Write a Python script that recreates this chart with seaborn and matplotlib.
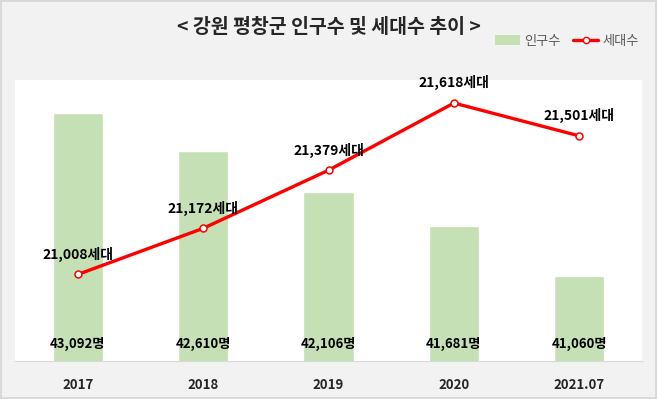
import matplotlib
matplotlib.use('Agg')
import matplotlib.pyplot as plt
import seaborn as sns
import pandas as pd
from matplotlib.patches import Patch
from matplotlib.lines import Line2D

# data
years = ['2017', '2018', '2019', '2020', '2021.07']
population = [43092, 42610, 42106, 41681, 41060]
households = [21008, 21172, 21379, 21618, 21501]

BAR_COLOR = '#c5e0b4'
LINE_COLOR = '#ff0000'

sns.set_style('white')
plt.rcParams['font.family'] = ['Noto Sans CJK KR', 'DejaVu Sans']

df = pd.DataFrame({'year': years, 'pop': population, 'hh': households})

fig = plt.figure(figsize=(6.57, 3.99), dpi=100, facecolor='#f2f2f2',
                 edgecolor='#d9d9d9', linewidth=1.5)
ax = fig.add_axes([0.0228, 0.0952, 0.9544, 0.7043])
ax.set_facecolor('white')

# population bars
sns.barplot(data=df, x='year', y='pop', color=BAR_COLOR, width=0.4,
            saturation=1, ax=ax)
ax.set_ylim(40000, 43500)
ax.set_xlim(-0.5, len(years) - 0.5)

for i, v in enumerate(population):
    ax.annotate(f'{v:,}명', xy=(i, 40000), xytext=(0, 12.5),
                textcoords='offset points', ha='center', va='center',
                fontsize=9.5, fontweight='bold', color='black')

# households line on secondary axis
ax2 = ax.twinx()
sns.lineplot(data=df, x='year', y='hh', ax=ax2, color=LINE_COLOR,
             linewidth=2.4, marker='o', markersize=5,
             markerfacecolor='white', markeredgecolor=LINE_COLOR,
             markeredgewidth=1.1, sort=False)
ax2.set_ylim(20700, 21700)

for i, v in enumerate(households):
    ax2.annotate(f'{v:,}세대', xy=(i, v), xytext=(0, 14.5),
                 textcoords='offset points', ha='center', va='center',
                 fontsize=10, fontweight='bold', color='black')

# axes cosmetics
for a in (ax, ax2):
    for side in ('top', 'left', 'right'):
        a.spines[side].set_visible(False)
    a.set_ylabel('')
    a.set_xlabel('')
    a.set_yticks([])
ax.spines['bottom'].set_color('#d9d9d9')
ax2.spines['bottom'].set_visible(False)
ax.tick_params(axis='x', length=0, pad=12)
for lbl in ax.get_xticklabels():
    lbl.set_fontweight('bold')
    lbl.set_fontsize(9.5)

fig.text(0.5, 0.932, '< 강원 평창군 인구수 및 세대수 추이 >', ha='center',
         va='center', fontsize=14, fontweight='bold')

handles = [Patch(facecolor=BAR_COLOR, edgecolor='none'),
           Line2D([0], [0], color=LINE_COLOR, linewidth=2.4, marker='o',
                  markersize=4.5, markerfacecolor='white',
                  markeredgecolor=LINE_COLOR)]
leg = fig.legend(handles, ['인구수', '세대수'], loc='center right',
                 bbox_to_anchor=(0.99, 0.897), ncol=2, frameon=False,
                 fontsize=9.5, handlelength=1.9, handletextpad=0.3,
                 columnspacing=1.0)
for t in leg.get_texts():
    t.set_color('#595959')

fig.savefig('out.png', dpi=100, facecolor=fig.get_facecolor(),
            edgecolor=fig.get_edgecolor())
